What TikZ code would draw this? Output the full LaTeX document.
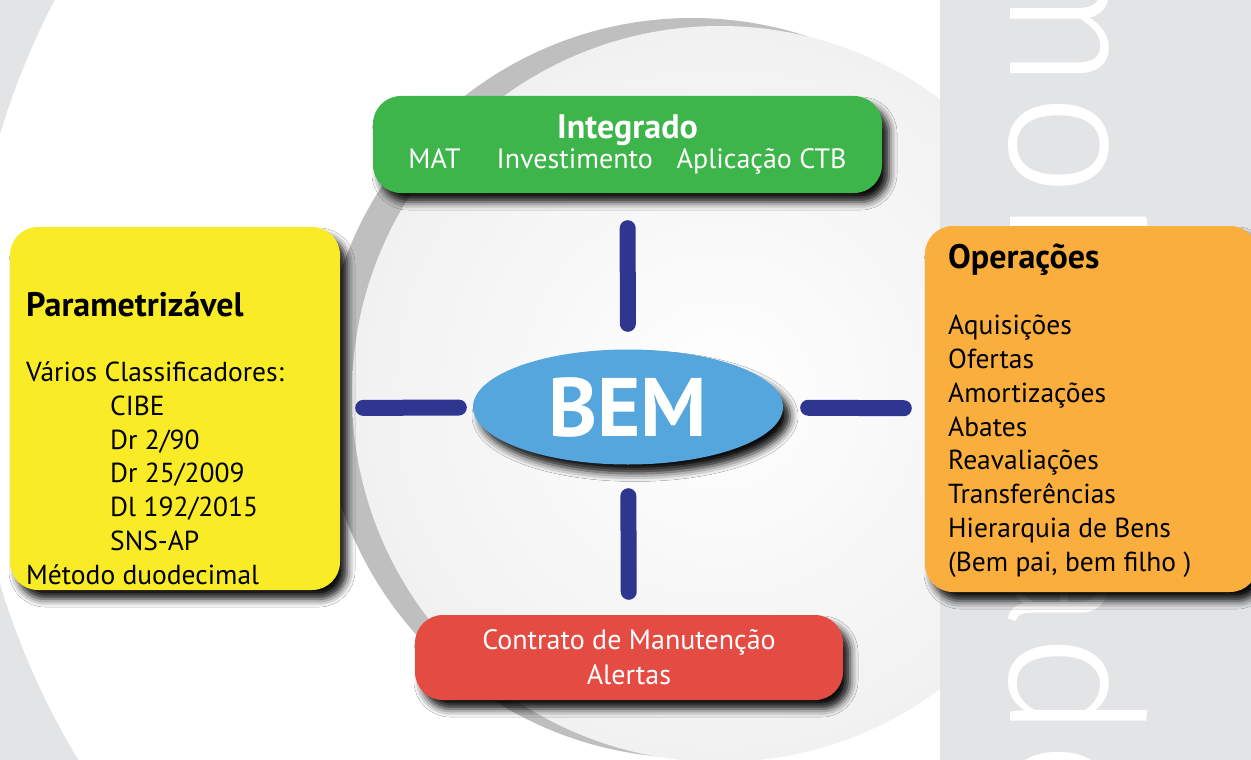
\documentclass[tikz,border=0pt]{standalone}
\usepackage{fontspec}
\setmainfont{PT Sans}
\newfontfamily\thinfont{Fira Sans Light}
\usetikzlibrary{positioning,shapes.geometric,shadows.blur}

\definecolor{bggray}{HTML}{E3E4E6}
\definecolor{ringgray}{HTML}{BFBFBF}
\definecolor{diskgray}{HTML}{F1F1F1}
\definecolor{cardgreen}{HTML}{3DB54A}
\definecolor{cardyellow}{HTML}{F9EC26}
\definecolor{cardorange}{HTML}{F9AE3D}
\definecolor{cardred}{HTML}{E44C43}
\definecolor{bemblue}{HTML}{55A6DC}
\definecolor{barblue}{HTML}{2E3690}

\newcommand{\cardhead}[1]{{\bfseries\fontsize{34}{34}\selectfont #1}}

\tikzset{
  dropshade/.style={blur shadow={shadow xshift=7pt, shadow yshift=-9pt, shadow blur radius=8pt, shadow opacity=95}},
  card/.style={rectangle, rounded corners=28pt, inner sep=0pt, text=white, dropshade},
  bar/.style={draw=barblue, line width=16pt, line cap=round},
  cardtext/.style={inner sep=0pt, align=left, font=\fontsize{27.5}{33.75}\selectfont},
}

\begin{document}
\begin{tikzpicture}[x=1pt, y=-1pt]
	\useasboundingbox (0,0) rectangle (1251,760);
	\clip (0,0) rectangle (1251,760);
	% background
	\fill[bggray] (0,0) rectangle (1251,760);
	\fill[white] (743,359) circle[radius=776];
	\fill[ringgray] (692,388) circle[radius=370];
	\shade[inner color=white, outer color=diskgray] (720,394) circle[radius=368];
	\fill[bggray] (940,0) rectangle (1251,760);
	\node[inner sep=0pt, text=white, rotate=-90, anchor=base west, font=\thinfont\fontsize{185}{185}\selectfont] (imob) at (1010,-118) {Imobilizado};

	% cards
	\node[card, fill=cardgreen, minimum width=509pt, minimum height=97pt, align=center, font=\fontsize{28}{30}\selectfont] (integ) at (627.5,144.5)
		{\cardhead{Integrado}\\MAT\hspace{36pt}Investimento\hspace{24pt}Aplicação CTB};
	\node[card, fill=cardyellow, minimum width=330pt, minimum height=363pt] (param) at (175,408.5) {};
	\node[card, fill=cardorange, minimum width=333pt, minimum height=366pt] (oper) at (1091.5,409) {};
	\node[card, fill=cardred, minimum width=428pt, minimum height=85pt, align=center, font=\fontsize{28}{35}\selectfont] (contr) at (629,657.5)
		{Contrato de Manutenção\\Alertas};
	\node[ellipse, fill=bemblue, minimum width=310pt, minimum height=115pt, inner sep=0pt, text=white, dropshade,
		font=\bfseries\fontsize{83}{83}\selectfont] (bem) at (628,407) {BEM};

	\node[cardtext, anchor=base west] (paramtext) at (26,584)
		{\cardhead{Parametrizável}\\[31pt]
		Vários Classificadores:\\
		\hspace*{84pt}CIBE\\
		\hspace*{84pt}Dr 2/90\\
		\hspace*{84pt}Dr 25/2009\\
		\hspace*{84pt}Dl 192/2015\\
		\hspace*{84pt}SNS-AP\\
		Método duodecimal};
	\node[cardtext, anchor=base west] (opertext) at (948,571)
		{\cardhead{Operações}\\[33pt]
		Aquisições\\
		Ofertas\\
		Amortizações\\
		Abates\\
		Reavaliações\\
		Transferências\\
		Hierarquia de Bens\\
		(Bem pai, bem filho )};

	% bars
	\draw[bar, shorten <=25.5pt, shorten >=35pt] (bem) -- (integ);
	\draw[bar, shorten <=14pt, shorten >=23pt] (bem) -- (param);
	\draw[bar, shorten <=25pt, shorten >=21pt] (bem) -- (oper);
	\draw[bar, shorten <=31.5pt, shorten >=23pt] (bem) -- (contr);
\end{tikzpicture}
\end{document}
